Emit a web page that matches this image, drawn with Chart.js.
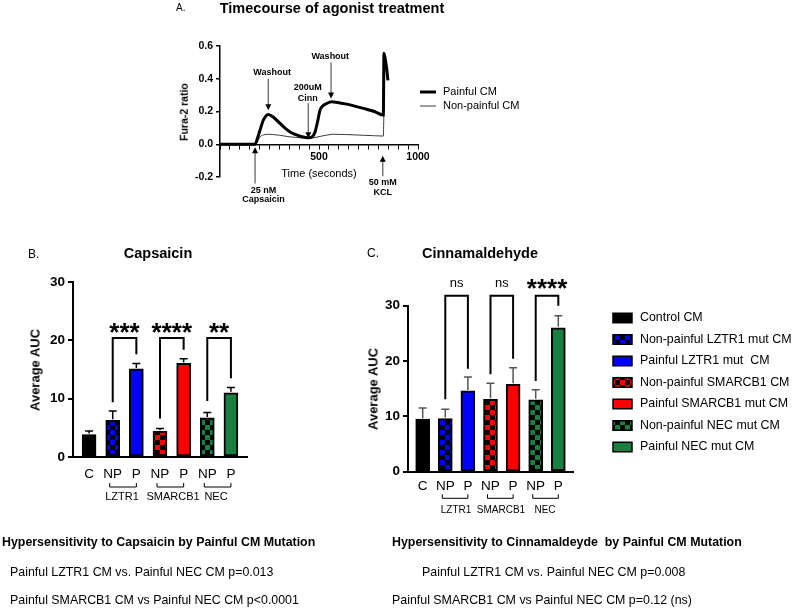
<!DOCTYPE html>
<html>
<head>
<meta charset="utf-8">
<script src="https://cdn.jsdelivr.net/npm/chart.js@4.4.0/dist/chart.umd.min.js"></script>
<style>
body{margin:0;background:#fff;font-family:Arial,"Liberation Sans",sans-serif;}
#page{position:relative;width:793px;height:611px;overflow:hidden;background:#fff;}
canvas{position:absolute;left:0;top:0;}
.t{position:absolute;white-space:pre;color:#000;line-height:1;}
.c{transform:translate(-50%,-50%);}
.l{transform:translate(0,-50%);}
.r{transform:translate(-50%,-50%) rotate(-90deg);}
.b{font-weight:bold;}
</style>
</head>
<body>
<div id="page">
<canvas id="graphA" width="793" height="611"></canvas>
<canvas id="graphB" width="793" height="611"></canvas>
<canvas id="graphC" width="793" height="611"></canvas>

<div class="t l" style="left:176px;top:8px;font-size:10px">A.</div>
<div class="t c b" style="left:332px;top:8px;font-size:14.5px">Timecourse of agonist treatment</div>
<div class="t r b" style="left:184px;top:112px;font-size:10.5px">Fura-2 ratio</div>
<div class="t c" style="left:319px;top:173px;font-size:11px">Time (seconds)</div>

<div class="t l" style="left:28px;top:254px;font-size:12px">B.</div>
<div class="t c b" style="left:158px;top:253px;font-size:14.5px">Capsaicin</div>
<div class="t r b" style="left:35px;top:370px;font-size:13px">Average AUC</div>

<div class="t l" style="left:367px;top:253px;font-size:12px">C.</div>
<div class="t c b" style="left:480px;top:253px;font-size:14.5px">Cinnamaldehyde</div>
<div class="t r b" style="left:373px;top:389px;font-size:13px">Average AUC</div>

<div class="t l b" style="left:2px;top:542px;font-size:12.4px">Hypersensitivity to Capsaicin by Painful CM Mutation</div>
<div class="t l" style="left:10px;top:572px;font-size:12.4px">Painful LZTR1 CM vs. Painful NEC CM p=0.013</div>
<div class="t l" style="left:10px;top:600px;font-size:12.4px">Painful SMARCB1 CM vs Painful NEC CM p&lt;0.0001</div>
<div class="t l b" style="left:392px;top:542px;font-size:12.4px">Hypersensitivity to Cinnamaldeyde  by Painful CM Mutation</div>
<div class="t l" style="left:422px;top:572px;font-size:12.4px">Painful LZTR1 CM vs. Painful NEC CM p=0.008</div>
<div class="t l" style="left:392px;top:600px;font-size:12.4px">Painful SMARCB1 CM vs Painful NEC CM p=0.12 (ns)</div>
</div>

<script>
// --- donnees ---
var tempsPainful = [0, 100, 177, 190, 202, 220, 244, 270, 303, 330, 354, 380, 404, 430, 446, 465, 480, 495, 505, 520, 539, 564, 600, 640, 680, 724, 780, 825, 828, 836, 843, 848];
var ratioPainful = [0, 0, 0, 0.04, 0.086, 0.15, 0.182, 0.165, 0.127, 0.097, 0.075, 0.06, 0.049, 0.042, 0.039, 0.045, 0.075, 0.15, 0.208, 0.235, 0.249, 0.259, 0.254, 0.245, 0.233, 0.219, 0.2, 0.178, 0.555, 0.51, 0.45, 0.39];
var tempsNonPainful = [0, 100, 177, 190, 202, 220, 244, 270, 300, 354, 400, 446, 475, 505, 540, 572, 640, 724, 780, 825, 828, 834];
var ratioNonPainful = [0, 0, 0, 0.02, 0.045, 0.057, 0.061, 0.059, 0.055, 0.045, 0.04, 0.037, 0.04, 0.048, 0.056, 0.061, 0.059, 0.055, 0.052, 0.05, 0.18, 0.17];
var legendeA = ["Painful CM", "Non-painful CM"];

var categories = ["C", "NP", "P", "NP", "P", "NP", "P"];
var groupes = ["LZTR1", "SMARCB1", "NEC"];
var paires = [[1, 2], [3, 4], [5, 6]];

var capsaicinAUC = [3.85, 6.3, 15.1, 4.45, 16.05, 6.7, 11.0];
var capsaicinErr = [0.6, 1.6, 0.95, 0.45, 0.8, 0.95, 0.9];
var capsaicinSig = ["***", "****", "**"];
var capsaicinJambeG = [9.4, 6.6, 9.6];
var capsaicinJambeD = [17.6, 18.4, 13.5];

var cinnAUC = [9.5, 9.6, 14.6, 13.1, 15.8, 13.0, 26.0];
var cinnErr = [2.0, 1.7, 2.5, 2.9, 3.0, 1.8, 2.2];
var cinnSig = ["ns", "ns", "****"];
var cinnJambeG = [13.1, 17.6, 16.4];
var cinnJambeD = [18.6, 20.4, 30.0];

var legendeBarres = ["Control CM", "Non-painful LZTR1 mut CM", "Painful LZTR1 mut  CM", "Non-painful SMARCB1 CM", "Painful SMARCB1 mut CM", "Non-painful NEC mut CM", "Painful NEC mut CM"];

var couleurs = ["#000000", "#0000ff", "#0000ff", "#ff0000", "#ff0000", "#188040", "#188040"];
var damierOui = [false, true, false, true, false, true, false];

function damier(couleur){
  var c = document.createElement("canvas");
  c.width = 10; c.height = 10;
  var x = c.getContext("2d");
  x.fillStyle = "#000"; x.fillRect(0, 0, 10, 10);
  x.fillStyle = couleur; x.fillRect(0, 0, 5, 5); x.fillRect(5, 5, 5, 5);
  return x.createPattern(c, "repeat");
}
var remplissages = couleurs.map(function(c, i){ return damierOui[i] ? damier(c) : c; });

function fleche(ctx, x, yQueue, yPointe){
  var dir = yPointe > yQueue ? 1 : -1;
  ctx.strokeStyle = "#666"; ctx.lineWidth = 1.3;
  ctx.beginPath(); ctx.moveTo(x, yQueue); ctx.lineTo(x, yPointe - dir * 4); ctx.stroke();
  ctx.fillStyle = "#000";
  ctx.beginPath(); ctx.moveTo(x, yPointe); ctx.lineTo(x - 3, yPointe - dir * 6); ctx.lineTo(x + 3, yPointe - dir * 6); ctx.closePath(); ctx.fill();
}

// annotations du panneau A (temps, valeurs de la fleche et du texte)
var notesA = [
  {t: 244, queue: 0.40, pointe: 0.208, tt: 263, lignes: ["Washout"], tv: [0.44]},
  {t: 446, queue: 0.25, pointe: 0.037, tt: 443, lignes: ["200uM", "Cinn"], tv: [0.349, 0.281]},
  {t: 561, queue: 0.50, pointe: 0.28, tt: 557, lignes: ["Washout"], tv: [0.538]},
  {t: 177, queue: -0.239, pointe: -0.018, tt: 220, lignes: ["25 nM", "Capsaicin"], tv: [-0.281, -0.339]},
  {t: 822, queue: -0.195, pointe: -0.07, tt: 822, lignes: ["50 mM", "KCL"], tv: [-0.232, -0.293]}
];

var decorA = {
  id: "decorA",
  afterDraw: function(chart){
    var ctx = chart.ctx, sx = chart.scales.x, sy = chart.scales.y;
    ctx.save();
    notesA.forEach(function(n){
      fleche(ctx, sx.getPixelForValue(n.t), sy.getPixelForValue(n.queue), sy.getPixelForValue(n.pointe));
      ctx.fillStyle = "#000"; ctx.font = "bold 9px Arial"; ctx.textAlign = "center"; ctx.textBaseline = "middle";
      n.lignes.forEach(function(l, k){ ctx.fillText(l, sx.getPixelForValue(n.tt), sy.getPixelForValue(n.tv[k])); });
    });
    // legende
    var largeurs = [3, 1];
    legendeA.forEach(function(l, k){
      var y = 92 + k * 14;
      ctx.strokeStyle = k === 0 ? "#000" : "#3a3a3a"; ctx.lineWidth = largeurs[k];
      ctx.beginPath(); ctx.moveTo(420, y); ctx.lineTo(436, y); ctx.stroke();
      ctx.fillStyle = "#000"; ctx.font = "11px Arial"; ctx.textAlign = "left"; ctx.textBaseline = "middle";
      ctx.fillText(l, 443, y);
    });
    ctx.restore();
  }
};

new Chart(document.getElementById("graphA"), {
  type: "line",
  data: {
    datasets: [
      {label: legendeA[0], data: tempsPainful.map(function(t, i){ return {x: t, y: ratioPainful[i]}; }),
       borderColor: "#000", borderWidth: 3, pointRadius: 0, cubicInterpolationMode: "monotone"},
      {label: legendeA[1], data: tempsNonPainful.map(function(t, i){ return {x: t, y: ratioNonPainful[i]}; }),
       borderColor: "#3a3a3a", borderWidth: 1, pointRadius: 0, cubicInterpolationMode: "monotone"}
    ]
  },
  options: {
    responsive: false, animation: false, events: [],
    layout: {padding: {left: 180, top: 46, right: 375, bottom: 434}},
    plugins: {legend: {display: false}, tooltip: {enabled: false}},
    scales: {
      x: {type: "linear", min: 0, max: 1000, position: {y: 0},
        afterFit: function(s){ s.height = 0; },
        grid: {display: true, drawOnChartArea: false, drawTicks: true, tickLength: 4, color: "#000", lineWidth: 1},
        border: {display: true, color: "#000", width: 1.5},
        ticks: {stepSize: 50, autoSkip: false, maxRotation: 0, minRotation: 0, padding: 3, color: "#000",
          font: {family: "Arial", weight: "bold", size: 10.5},
          callback: function(v){ return (v === 500 || v === 1000) ? String(v) : ""; }}},
      y: {min: -0.2, max: 0.6,
        afterFit: function(s){ s.width = 40; },
        grid: {display: true, drawOnChartArea: false, drawTicks: true, tickLength: 4, color: "#000", lineWidth: 1.5},
        border: {display: true, color: "#000", width: 1.5},
        ticks: {stepSize: 0.2, padding: 3, color: "#000", font: {family: "Arial", weight: "bold", size: 10.5},
          callback: function(v){ return v.toFixed(1); }}}
    }
  },
  plugins: [decorA]
});

function Histo(idCanvas, valeurs, erreurs, sig, jambeG, jambeD, cadre){
  var decor = {
    id: "decor" + idCanvas,
    afterDatasetsDraw: function(chart){
      var ctx = chart.ctx, sx = chart.scales.x, sy = chart.scales.y, bas = chart.chartArea.bottom;
      ctx.save();
      // barres d'erreur
      ctx.strokeStyle = cadre.couleurErr; ctx.lineWidth = 1.5;
      valeurs.forEach(function(v, i){
        var x = sx.getPixelForValue(i), y0 = sy.getPixelForValue(v) - 1, y1 = sy.getPixelForValue(v + erreurs[i]);
        ctx.beginPath(); ctx.moveTo(x, y0); ctx.lineTo(x, y1); ctx.moveTo(x - 4, y1); ctx.lineTo(x + 4, y1); ctx.stroke();
      });
      // crochets de significativite
      ctx.strokeStyle = "#000"; ctx.lineWidth = 2;
      paires.forEach(function(p, k){
        var xa = sx.getPixelForValue(p[0]), xb = sx.getPixelForValue(p[1]), yt = sy.getPixelForValue(cadre.haut);
        ctx.beginPath();
        ctx.moveTo(xa, sy.getPixelForValue(jambeG[k])); ctx.lineTo(xa, yt); ctx.lineTo(xb, yt); ctx.lineTo(xb, sy.getPixelForValue(jambeD[k]));
        ctx.stroke();
        var xm = (xa + xb) / 2, ym = sy.getPixelForValue(cadre.etiquette);
        ctx.fillStyle = "#000"; ctx.textAlign = "center";
        if (sig[k] === "ns") {
          ctx.font = "13px Arial"; ctx.textBaseline = "middle"; ctx.fillText(sig[k], xm, ym);
        } else {
          ctx.font = "bold 26px Arial"; ctx.textBaseline = "alphabetic"; ctx.fillText(sig[k], xm, ym + 26 * 0.55);
        }
      });
      // categories
      ctx.fillStyle = "#000"; ctx.font = "13.5px Arial"; ctx.textAlign = "center"; ctx.textBaseline = "middle";
      categories.forEach(function(c, i){ ctx.fillText(c, sx.getPixelForValue(i), bas + cadre.dyCat); });
      // groupes
      ctx.strokeStyle = "#000"; ctx.lineWidth = 1;
      ctx.font = cadre.policeGroupe;
      paires.forEach(function(p, k){
        var xa = sx.getPixelForValue(p[0]) - 3, xb = sx.getPixelForValue(p[1]), y = bas + cadre.dyCrochet;
        ctx.beginPath(); ctx.moveTo(xa, y - 4); ctx.lineTo(xa, y); ctx.lineTo(xb, y); ctx.lineTo(xb, y - 4); ctx.stroke();
        ctx.fillText(groupes[k], cadre.xGroupe[k], bas + cadre.dyGroupe);
      });
      // legende
      if (cadre.legende) {
        legendeBarres.forEach(function(l, i){
          var y = 318 + i * 21.5;
          ctx.fillStyle = remplissages[i]; ctx.fillRect(613, y - 4.75, 19, 9.5);
          ctx.strokeStyle = "#000"; ctx.lineWidth = 1.5; ctx.strokeRect(613, y - 4.75, 19, 9.5);
          ctx.fillStyle = "#000"; ctx.font = "12.4px Arial"; ctx.textAlign = "left"; ctx.textBaseline = "middle";
          ctx.fillText(l, 640, y);
        });
      }
      ctx.restore();
    }
  };

  new Chart(document.getElementById(idCanvas), {
    type: "bar",
    data: {
      datasets: [{
        data: valeurs.map(function(v, i){ return {x: i, y: v}; }),
        backgroundColor: remplissages, borderColor: "#000", borderWidth: 2, borderSkipped: false,
        barThickness: 14
      }]
    },
    options: {
      responsive: false, animation: false, events: [],
      layout: {padding: {left: cadre.gauche - 40, top: cadre.top, right: 793 - cadre.droite, bottom: 611 - cadre.bas}},
      plugins: {legend: {display: false}, tooltip: {enabled: false}},
      scales: {
        x: {type: "linear", min: cadre.xmin, max: cadre.xmax, offset: false,
          afterFit: function(s){ s.height = 0; },
          grid: {display: false, offset: false, drawTicks: false},
          border: {display: true, color: "#000", width: 2},
          ticks: {display: false}},
        y: {min: 0, max: 30,
          afterFit: function(s){ s.width = 40; },
          grid: {display: true, drawOnChartArea: false, drawTicks: true, tickLength: 5, color: "#000", lineWidth: 2},
          border: {display: true, color: "#000", width: 2},
          ticks: {stepSize: 10, padding: 3, color: "#000", font: {family: "Arial", weight: "bold", size: 13.5}}}
      }
    },
    plugins: [decor]
  });
}

Histo("graphB", capsaicinAUC, capsaicinErr, capsaicinSig, capsaicinJambeG, capsaicinJambeD,
  {gauche: 73, droite: 247, top: 282, bas: 457, xmin: -0.68, xmax: 6.68, haut: 20.4, etiquette: 22.4,
   couleurErr: "#000", dyCat: 17, dyCrochet: 30, dyGroupe: 40, xGroupe: [122, 173, 216], policeGroupe: "11px Arial", legende: false});

Histo("graphC", cinnAUC, cinnErr, cinnSig, cinnJambeG, cinnJambeD,
  {gauche: 408, droite: 573, top: 305.7, bas: 471.7, xmin: -0.65, xmax: 6.65, haut: 31.8, etiquette: 34.1,
   couleurErr: "#555", dyCat: 15, dyCrochet: 26.6, dyGroupe: 38.3, xGroupe: [456, 501, 545], policeGroupe: "10px Arial", legende: true});
</script>
</body>
</html>
